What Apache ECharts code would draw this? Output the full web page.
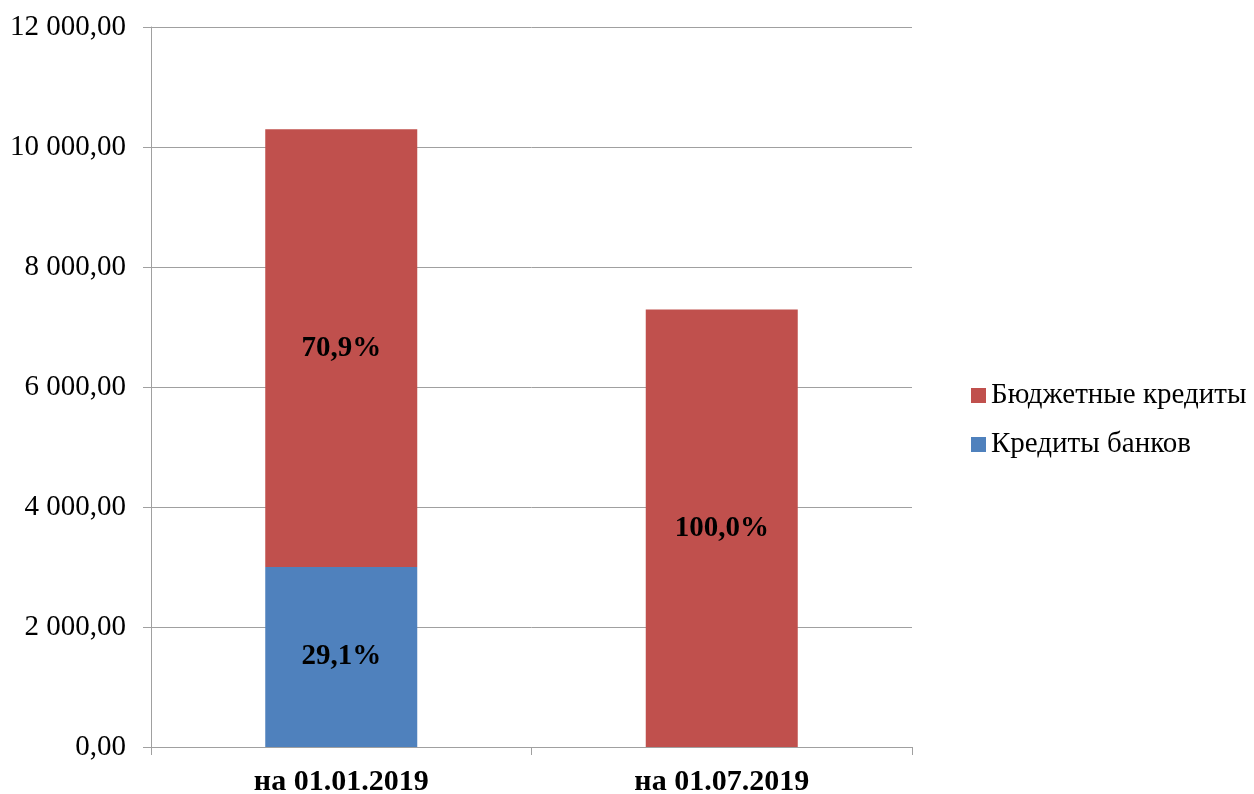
<!DOCTYPE html>
<html>
<head>
<meta charset="utf-8">
<script src="https://cdn.jsdelivr.net/npm/echarts@6/dist/echarts.min.js"></script>
<style>html,body{margin:0;padding:0;background:#fff}#c{width:1254px;height:794px}</style>
</head>
<body>
<div id="c"></div>
<script>
const categories = ['на 01.01.2019', 'на 01.07.2019'];
const bankValues = [3000, 0];
const budgetValues = [7295, 7290];
const bankLabels = ['29,1%', ''];
const budgetLabels = ['70,9%', '100,0%'];
const yTicks = [0, 2000, 4000, 6000, 8000, 10000, 12000];

function fmt(v) {
  const s = Math.round(v).toString().replace(/\B(?=(\d{3})+(?!\d))/g, ' ');
  return s + ',00';
}

const serif = '"Liberation Serif", "Times New Roman", serif';
const chart = echarts.init(document.getElementById('c'));
chart.setOption({
  animation: false,
  backgroundColor: '#fff',
  grid: { left: 151, right: 342, top: 27, bottom: 47, containLabel: false, outerBoundsMode: 'none' },
  legend: {
    orient: 'vertical',
    left: 966,
    top: 376,
    icon: 'rect',
    itemWidth: 15,
    itemHeight: 15,
    itemGap: 20,
    data: ['Бюджетные кредиты', 'Кредиты банков'],
    textStyle: { fontFamily: serif, fontSize: 29, color: '#000', padding: [0, 0, 0, 0], lineHeight: 29 }
  },
  xAxis: {
    type: 'category',
    data: categories,
    axisLine: { lineStyle: { color: '#a0a0a0', width: 1 } },
    axisTick: { show: true, length: 8, lineStyle: { color: '#a0a0a0' } },
    axisLabel: { fontFamily: serif, fontSize: 30, fontWeight: 'bold', color: '#000', margin: 20 }
  },
  yAxis: {
    type: 'value',
    min: yTicks[0],
    max: yTicks[yTicks.length - 1],
    interval: 2000,
    axisLine: { show: true, lineStyle: { color: '#a0a0a0', width: 1 } },
    axisTick: { show: true, length: 8, lineStyle: { color: '#a0a0a0' } },
    splitLine: { lineStyle: { color: '#a0a0a0', width: 1 } },
    axisLabel: { fontFamily: serif, fontSize: 29, color: '#000', margin: 25, formatter: fmt }
  },
  series: [
    {
      name: 'Кредиты банков',
      type: 'bar',
      stack: 'total',
      barWidth: 152,
      itemStyle: { color: '#4F81BD' },
      data: bankValues,
      label: {
        show: true, position: 'inside', fontFamily: serif, fontSize: 29, fontWeight: 'bold', color: '#000',
        formatter: p => bankLabels[p.dataIndex]
      }
    },
    {
      name: 'Бюджетные кредиты',
      type: 'bar',
      stack: 'total',
      barWidth: 152,
      itemStyle: { color: '#C0504D' },
      data: budgetValues,
      label: {
        show: true, position: 'inside', fontFamily: serif, fontSize: 29, fontWeight: 'bold', color: '#000',
        formatter: p => budgetLabels[p.dataIndex]
      }
    }
  ]
});
</script>
</body>
</html>
